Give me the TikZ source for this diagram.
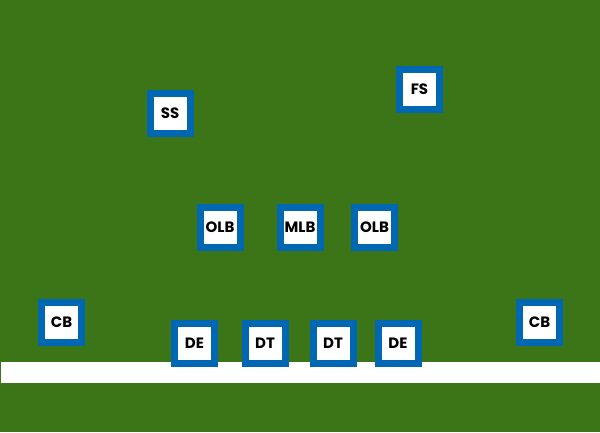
\documentclass[tikz,border=0pt]{standalone}
\usepackage{fontspec}
\setmainfont{Poppins}[BoldFont={* Bold}]
\definecolor{field}{RGB}{59,117,23}
\definecolor{jersey}{RGB}{0,104,178}
\begin{document}
\begin{tikzpicture}[x=1pt,y=-1pt,
  player/.style={draw=jersey,fill=white,line width=7pt,minimum size=40pt,inner sep=0pt,
    font=\fontsize{15}{15}\selectfont\bfseries,text=black}]
\fill[field] (0,0) rectangle (600,432);
\useasboundingbox (0,0) rectangle (600,432);
\fill[white] (1,362) rectangle (600,383);
\node[player] (ss) at (170,113) {SS};
\node[player] (fs) at (419.5,89.5) {FS};
\node[player] (olbl) at (220,227) {OLB};
\node[player] (mlb) at (300,227) {MLB};
\node[player] (olbr) at (374.5,227) {OLB};
\node[player] (cbl) at (61.5,322.5) {CB};
\node[player] (cbr) at (539.5,322.5) {CB};
\node[player] (del) at (194.5,343) {DE};
\node[player] (dtl) at (265,343) {DT};
\node[player] (dtr) at (333,343) {DT};
\node[player] (der) at (398,343) {DE};
\end{tikzpicture}
\end{document}
